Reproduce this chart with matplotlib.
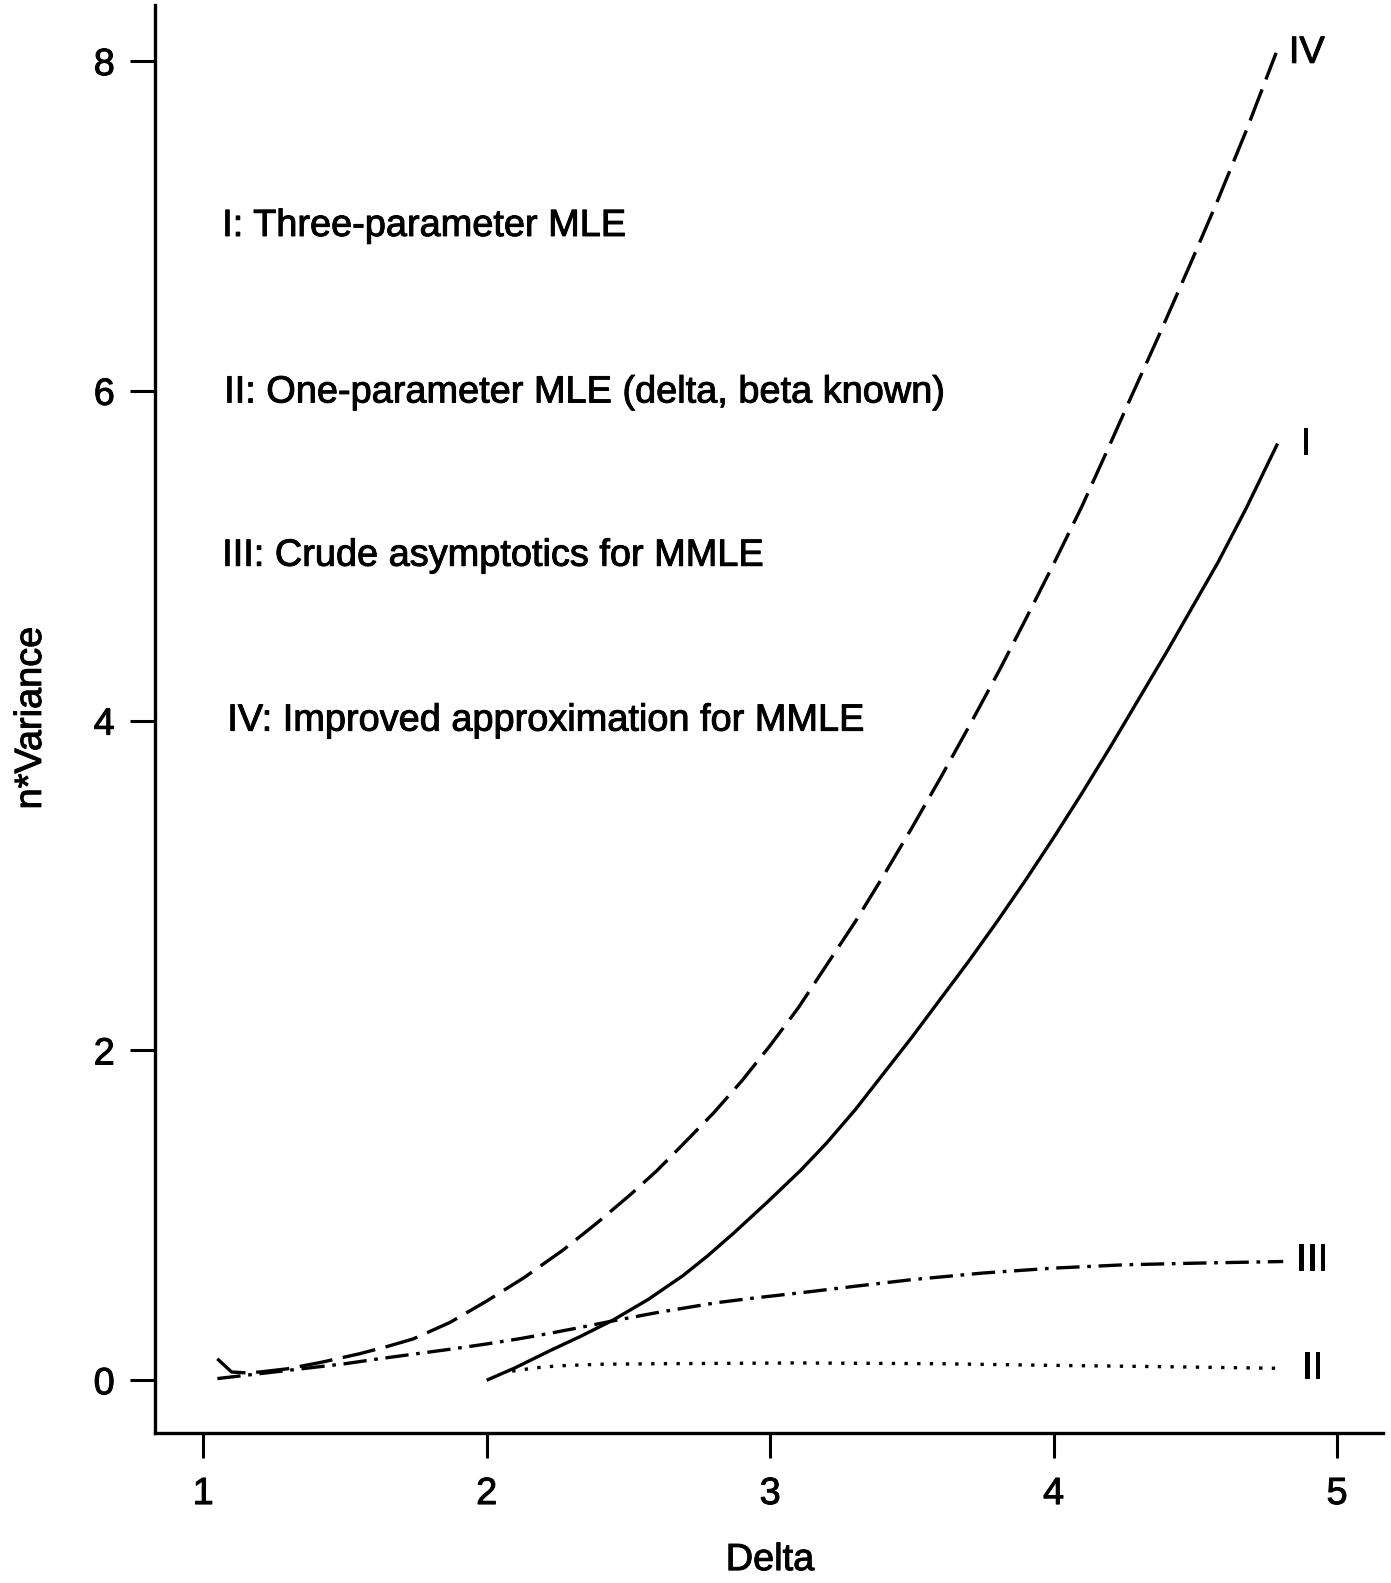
import matplotlib
matplotlib.use("Agg")
import matplotlib.pyplot as plt
import matplotlib.patheffects as pe

plt.rcParams['font.family'] = ['Liberation Sans', 'DejaVu Sans']

# ---- data ----
d_IV = [1.05, 1.10, 1.15, 1.20, 1.30, 1.42, 1.55, 1.65, 1.74, 1.87, 2.00, 2.13, 2.27, 2.39, 2.51,
        2.60, 2.675, 2.80, 2.90, 3.00, 3.10, 3.20, 3.30, 3.40, 3.50, 3.60, 3.70, 3.81, 3.90, 4.00,
        4.10, 4.20, 4.27, 4.37, 4.48, 4.58, 4.68, 4.785]
v_IV = [0.13, 0.05, 0.045, 0.05, 0.07, 0.11, 0.16, 0.205, 0.25, 0.35, 0.48, 0.62, 0.79, 0.955, 1.13,
        1.27, 1.40, 1.62, 1.815, 2.03, 2.26, 2.52, 2.78, 3.06, 3.35, 3.65, 3.96, 4.31, 4.61, 4.95,
        5.30, 5.68, 5.95, 6.33, 6.76, 7.16, 7.58, 8.05]

d_I = [2.00, 2.10, 2.224, 2.33, 2.446, 2.57, 2.693, 2.78, 2.87, 2.99, 3.106, 3.20, 3.30, 3.40,
       3.50, 3.60, 3.70, 3.80, 3.90, 4.00, 4.10, 4.20, 4.30, 4.40, 4.50, 4.58, 4.68, 4.79]
v_I = [0.00, 0.075, 0.18, 0.265, 0.365, 0.49, 0.635, 0.755, 0.89, 1.08, 1.27, 1.44, 1.64, 1.86,
       2.08, 2.31, 2.54, 2.78, 3.03, 3.29, 3.56, 3.84, 4.13, 4.42, 4.72, 4.96, 5.29, 5.68]

d_III = [1.05, 1.20, 1.35, 1.50, 1.62, 1.75, 1.88, 2.00, 2.11, 2.224, 2.33, 2.446, 2.60, 2.81,
         2.95, 3.106, 3.30, 3.50, 3.75, 4.00, 4.25, 4.50, 4.81]
v_III = [0.01, 0.04, 0.07, 0.10, 0.13, 0.16, 0.19, 0.22, 0.25, 0.285, 0.32, 0.36, 0.41, 0.47,
         0.50, 0.53, 0.57, 0.61, 0.65, 0.68, 0.70, 0.71, 0.72]

d_II = [2.09, 2.17, 2.25, 2.40, 2.60, 3.10, 3.60, 4.00, 4.40, 4.81]
v_II = [0.055, 0.075, 0.087, 0.097, 0.10, 0.105, 0.10, 0.09, 0.082, 0.072]

curve_labels = ["IV", "I", "III", "II"]
curve_label_x = [4.83, 4.87, 4.855, 4.875]
curve_label_y = [8.05, 5.68, 0.73, 0.073]

legend_texts = ["I: Three-parameter MLE",
                "II: One-parameter MLE (delta, beta known)",
                "III: Crude asymptotics for MMLE",
                "IV: Improved approximation for MMLE"]
legend_x = [1.067, 1.074, 1.067, 1.085]
legend_y = [7.00, 5.99, 5.00, 4.00]

x_ticks = [1, 2, 3, 4, 5]
y_ticks = [0, 2, 4, 6, 8]

# ---- figure ----
W, H = 1391, 1583
fig = plt.figure(figsize=(W / 100, H / 100), dpi=100)
ax = fig.add_axes([155 / W, 150 / H, (1383 - 155) / W, (1433 - 5) / H])

FS = 27.3
stroke = [pe.withStroke(linewidth=0.7, foreground='black')]

lw = 2.4
ax.plot(d_IV, v_IV, color='black', lw=lw, dashes=(10, 3.2), dash_capstyle='butt')
ax.plot(d_I, v_I, color='black', lw=lw, solid_capstyle='butt')
ax.plot(d_III, v_III, color='black', lw=lw, dashes=(7, 2.3, 1.1, 2.3), dash_capstyle='butt')
ax.plot(d_II, v_II, color='black', lw=lw, dashes=(1.0, 2.8), dash_capstyle='butt')

for t, x, y in zip(curve_labels, curve_label_x, curve_label_y):
    ax.text(x, y, t, fontsize=FS, ha='left', va='center', path_effects=stroke)

for t, x, y in zip(legend_texts, legend_x, legend_y):
    ax.text(x, y, t, fontsize=FS, ha='left', va='center', path_effects=stroke)

ax.set_xlim(0.83, 5.162)
ax.set_ylim(-0.32, 8.34)
ax.set_xticks(x_ticks)
ax.set_yticks(y_ticks)
ax.tick_params(axis='both', length=18, width=2.2, labelsize=FS, direction='out')
ax.tick_params(axis='x', pad=13)
ax.tick_params(axis='y', pad=11)
for lab in ax.get_xticklabels() + ax.get_yticklabels():
    lab.set_path_effects(stroke)
for s in ['top', 'right']:
    ax.spines[s].set_visible(False)
for s in ['left', 'bottom']:
    ax.spines[s].set_linewidth(2.4)

ax.set_xlabel("Delta", fontsize=FS, va='center', path_effects=stroke)
ax.xaxis.set_label_coords(0.5008, -0.089)
ax.set_ylabel("n*Variance", fontsize=FS, va='center', path_effects=stroke)
ax.yaxis.set_label_coords(-0.1010, 0.5007)

fig.savefig("out.png", dpi=100)
